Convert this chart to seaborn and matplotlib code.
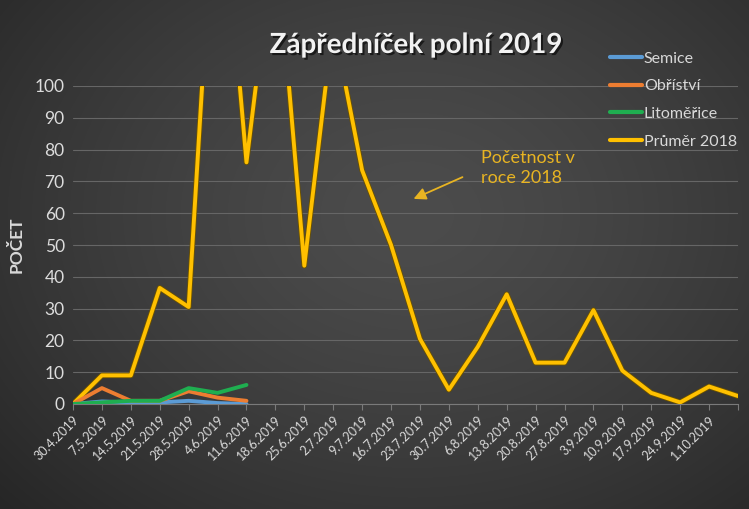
import numpy as np
import pandas as pd
import matplotlib
matplotlib.use("Agg")
import matplotlib.pyplot as plt
import matplotlib.patheffects as pe
from matplotlib.lines import Line2D
import seaborn as sns

# ---- data ----
dates = ["30.4.2019", "7.5.2019", "14.5.2019", "21.5.2019", "28.5.2019", "4.6.2019",
         "11.6.2019", "18.6.2019", "25.6.2019", "2.7.2019", "9.7.2019", "16.7.2019",
         "23.7.2019", "30.7.2019", "6.8.2019", "13.8.2019", "20.8.2019", "27.8.2019",
         "3.9.2019", "10.9.2019", "17.9.2019", "24.9.2019", "1.10.2019", "8.10.2019"]
semice = [0, 0.8, 0.5, 0.5, 1, 0.3, 0]
obristvi = [0, 5, 1, 1, 4, 2, 1]
litomerice = [0, 0.5, 1, 1, 5, 3.5, 6]
prumer_2018 = [0, 9, 9, 36.5, 30.5, 180, 76, 150, 43.5, 120, 73.5, 50, 20.5, 4.5,
               18, 34.5, 13, 13, 29.5, 10.5, 3.5, 0.5, 5.5, 2.5]
series_names = ["Semice", "Obříství", "Litoměřice", "Průměr 2018"]
series_colors = ["#5b9bd5", "#ed7d31", "#1fae50", "#ffc000"]
yticks = list(range(0, 101, 10))

rows = []
for name, vals in zip(series_names, [semice, obristvi, litomerice, prumer_2018]):
    for i, v in enumerate(vals):
        rows.append({"idx": i, "value": v, "series": name})
df = pd.DataFrame(rows)

sns.set_theme(style="white")
plt.rcParams["font.family"] = ["Lato", "DejaVu Sans"]

W, H = 749, 509
fig = plt.figure(figsize=(W / 100, H / 100), dpi=100)

# background radial gradient
bg = fig.add_axes([0, 0, 1, 1], zorder=-10)
yy, xx = np.mgrid[0:H, 0:W]
r = np.sqrt(((xx - W * 0.55) / (W * 0.75)) ** 2 + ((yy - H * 0.42) / (H * 0.85)) ** 2)
r = np.clip(r, 0, 1)
c0, c1 = 0x4c, 0x26
shade = (c0 + (c1 - c0) * r ** 1.4) / 255.0
img = np.dstack([shade, shade, shade])
bg.imshow(img, aspect="auto", extent=[0, 1, 0, 1], origin="upper")
bg.axis("off")

ax = fig.add_axes([73 / W, (H - 404) / H, (738 - 73) / W, (404 - 86) / H])
ax.set_facecolor("none")

sns.lineplot(data=df, x="idx", y="value", hue="series", hue_order=series_names,
             palette=series_colors, linewidth=2.8, ax=ax, legend=False, sort=False)
lines = ax.get_lines()
for ln, name in zip(lines, series_names):
    if name == "Průměr 2018":
        ln.set_zorder(3)
        ln.set_path_effects([pe.Stroke(linewidth=4.0, foreground="#6b5200"), pe.Normal()])
    elif name == "Litoměřice":
        ln.set_zorder(5)
    elif name == "Obříství":
        ln.set_zorder(4.5)
    else:
        ln.set_zorder(4)

ax.set_xlim(0, len(dates) - 1)
ax.set_ylim(0, 100)
ax.set_yticks(yticks)
ax.set_yticklabels([str(t) for t in yticks], color="#dcdcdc", fontsize=12.5)
ax.set_xticks(range(len(dates)))
ax.set_xticklabels(dates[:-1] + [""], rotation=45, ha="right", rotation_mode="anchor",
                   color="#d9d9d9", fontsize=9)
ax.tick_params(axis="y", length=0, pad=6)
ax.tick_params(axis="x", length=4, width=0.8, color="#7a7a7a", pad=3, direction="out", bottom=True)
ax.grid(axis="y", color="#666666", linewidth=0.8)
ax.set_axisbelow(True)
for s in ["top", "right", "left"]:
    ax.spines[s].set_visible(False)
ax.spines["bottom"].set_color("#7a7a7a")
ax.spines["bottom"].set_linewidth(0.8)
ax.set_xlabel("")
ax.set_ylabel("")

# title
fig.text(416 / W, 1 - 45 / H, "Zápředníček polní 2019", ha="center", va="center",
         color="#f2f2f2", fontsize=20, fontweight="bold",
         path_effects=[pe.withSimplePatchShadow(offset=(1.5, -1.5), shadow_rgbFace="black", alpha=0.6)])

# y label
fig.text(17 / W, 1 - 245 / H, "POČET", rotation=90, ha="center", va="center",
         color="#d9d9d9", fontsize=12.5, fontweight="bold")

# legend
handles = [Line2D([0], [0], color=c, linewidth=3) for c in series_colors]
leg = fig.legend(handles, series_names, loc="upper left", bbox_to_anchor=(596 / W, 1 - 37 / H),
                 frameon=False, fontsize=11.5, labelcolor="#d9d9d9", handlelength=2.0,
                 handletextpad=0.1, labelspacing=0.85)

# annotation
ax.annotate("", xy=(411 / W, 1 - 200 / H), xycoords="figure fraction",
            xytext=(465 / W, 1 - 176 / H), textcoords="figure fraction",
            arrowprops=dict(arrowstyle="-|>,head_length=0.6,head_width=0.3", color="#e8b422", lw=1.3))
fig.text(481 / W, 1 - 168 / H, "Početnost v\nroce 2018", ha="left", va="center",
         color="#e8b422", fontsize=13, linespacing=1.35)

fig.savefig("out.png", dpi=100)
